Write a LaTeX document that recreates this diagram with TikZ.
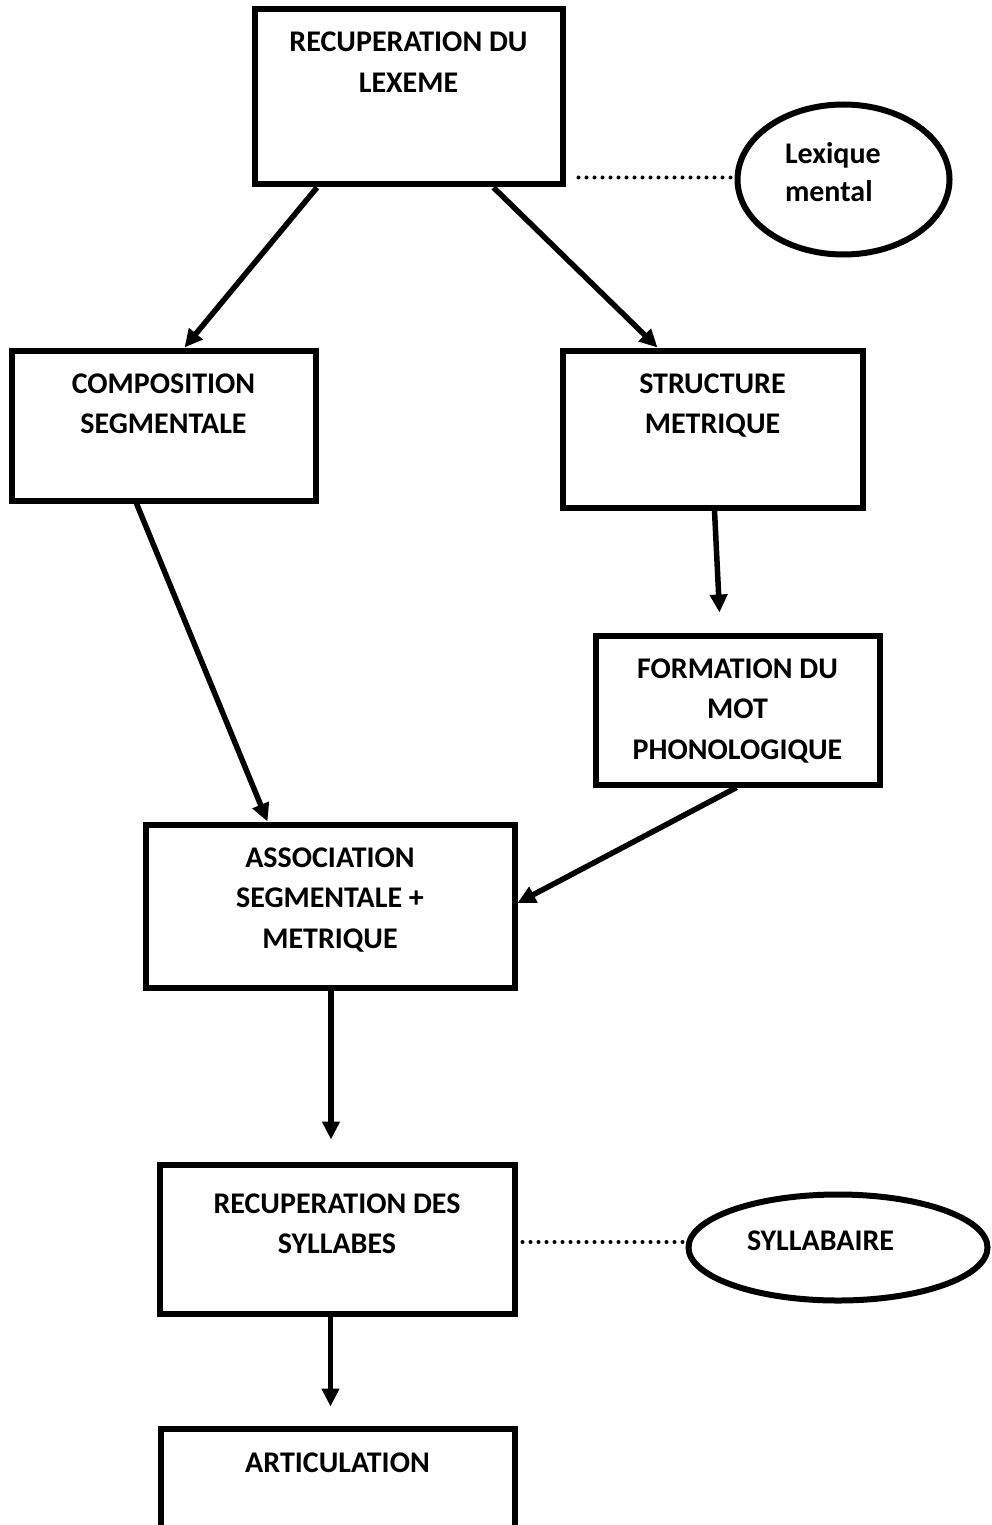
\documentclass[tikz,border=0pt]{standalone}
\usepackage{fontspec}
\setmainfont{Carlito}
\usetikzlibrary{arrows.meta,shapes.geometric,calc}
\begin{document}
\begin{tikzpicture}[x=1pt,y=-1pt,
  box/.style={draw,line width=6pt,rectangle,inner xsep=0pt,align=center,
    font=\bfseries\fontsize{30}{40.5}\selectfont},
  oval/.style={draw,line width=6pt,ellipse,inner sep=0pt,align=left,
    font=\bfseries\fontsize{30}{38}\selectfont},
  arr/.style={line width=5.5pt,-{Triangle[length=18pt,width=17pt]}},
  dots/.style={line width=4pt,line cap=round,dash pattern=on 0pt off 8pt}]

\useasboundingbox (0,0) rectangle (991,1525);
\fill[white] (0,0) rectangle (991,1525);
\clip (0,0) rectangle (991,1525);

\node[box,minimum width=308pt,text height=59.5pt,text depth=68.5pt,inner ysep=23.5pt] (lex) at (408.5,97) {RECUPERATION DU\\LEXEME};
\node[box,minimum width=304pt,text height=59.5pt,text depth=43.5pt,inner ysep=23.5pt] (comp) at (163.5,425.5) {COMPOSITION\\SEGMENTALE};
\node[box,minimum width=300pt,text height=59.5pt,text depth=50.5pt,inner ysep=23.5pt] (struct) at (712.5,429) {STRUCTURE\\METRIQUE};
\node[box,minimum width=284pt,text height=100pt,text depth=2pt,inner ysep=23.5pt] (formation) at (737.5,710) {FORMATION DU\\MOT\\PHONOLOGIQUE};
\node[box,minimum width=369pt,text height=100pt,text depth=16pt,inner ysep=23.5pt] (assoc) at (330,906) {ASSOCIATION\\SEGMENTALE +\\METRIQUE};
\node[box,minimum width=355pt,text height=59.5pt,text depth=30.5pt,inner ysep=29.5pt] (recup) at (337,1239) {RECUPERATION DES\\SYLLABES};
\node[box,minimum width=354pt,text height=19pt,text depth=61pt,inner ysep=24.5pt] (artic) at (337.5,1493) {ARTICULATION};

\node[oval,minimum width=212pt,minimum height=150pt,text width=117pt,text height=19pt,text depth=50pt] (lexm) at (843.5,179.5) {Lexique\\mental};
\node[oval,minimum width=299pt,minimum height=106pt,text width=182pt,text height=19pt,text depth=14pt] (syl) at (838,1247.5) {SYLLABAIRE};

\draw[arr] ([xshift=65.5pt]lex.south west) -- ([xshift=176pt]comp.north west);
\draw[arr] ([xshift=242pt]lex.south west) -- ([xshift=98pt]struct.north west);
\draw[arr] ([xshift=128pt]comp.south west) -- ([xshift=125pt]assoc.north west);
\coordinate (fin) at ([xshift=127pt,yshift=20pt]formation.north west);
\draw[arr] ([xshift=155pt]struct.south west) -- (fin);
\draw[arr] ([xshift=144pt]formation.south west) -- ([yshift=3pt]assoc.east);
\coordinate (rin) at ([xshift=-6pt,yshift=22pt]recup.north);
\draw[arr] (assoc.south -| rin) -- (rin);
\coordinate (ain) at ([xshift=-7pt,yshift=19pt]artic.north);
\draw[arr] (recup.south -| ain) -- (ain);

\coordinate (d1) at ([xshift=13pt,yshift=10pt]lex.south east);
\draw[dots] (d1) -- (d1 -| lexm.west);
\coordinate (d2) at ([xshift=5pt,yshift=-3pt]recup.east);
\draw[dots] (d2) -- (d2 -| syl.west);
\end{tikzpicture}
\end{document}
